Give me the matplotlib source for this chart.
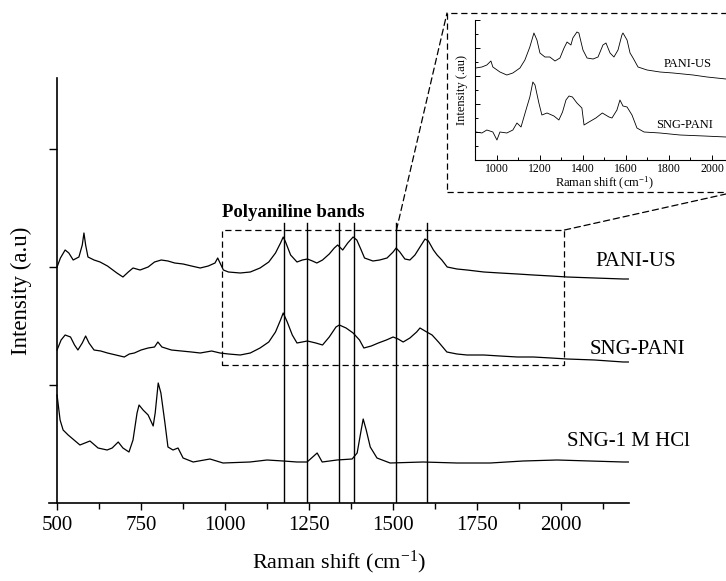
import numpy as np
import matplotlib
matplotlib.use("Agg")
import matplotlib.pyplot as plt
from matplotlib.patches import Rectangle, ConnectionPatch
from matplotlib.ticker import MultipleLocator

plt.rcParams['font.family'] = ['Liberation Serif', 'DejaVu Serif']
plt.rcParams['mathtext.fontset'] = 'custom'
plt.rcParams['mathtext.rm'] = 'Liberation Serif'

# Raman spectra (offset stacked), intensity in a.u.
pani_us_x = [500, 510, 524, 535, 548, 565, 575, 580, 585, 592, 610, 628, 650, 678, 696, 712, 726,
             747, 771, 790, 810, 830, 850, 875, 900, 926, 950, 970, 978, 985, 995, 1010, 1045,
             1075, 1104, 1130, 1150, 1165, 1173, 1180, 1195, 1214, 1230, 1245, 1260, 1273, 1290,
             1310, 1325, 1335, 1350, 1365, 1381, 1392, 1405, 1415, 1440, 1460, 1482, 1500, 1509,
             1520, 1535, 1550, 1565, 1580, 1595, 1605, 1620, 1631, 1645, 1661, 1690, 1720, 1770,
             1818, 1870, 1917, 1970, 2018, 2100, 2185, 2200]
pani_us_y = [236, 245, 253, 250, 243, 246, 258, 270, 258, 246, 243, 241, 237, 230, 226, 231, 235,
             233, 236, 241, 243, 242, 240, 239, 237, 235, 237, 240, 245, 240, 233, 231, 230,
             231, 235, 241, 250, 260, 266, 261, 248, 241, 243, 244, 242, 240, 243,
             249, 255, 258, 253, 260, 266, 263, 253, 245, 242, 243, 245, 251, 255,
             251, 244, 243, 248, 256, 264, 262, 253, 248, 243, 236, 234, 233, 231,
             230, 229, 228, 227, 226, 225, 224, 224]

sng_pani_x = [500, 512, 524, 540, 552, 562, 575, 585, 595, 610, 630, 650, 675, 700, 715, 730, 750,
              771, 790, 800, 812, 840, 870, 900, 926, 960, 985, 1010, 1045, 1075, 1104, 1130,
              1150, 1165, 1173, 1185, 1200, 1214, 1245, 1270, 1290, 1310, 1330, 1340, 1360, 1381,
              1400, 1413, 1435, 1456, 1480, 1500, 1515, 1530, 1550, 1570, 1580, 1595, 1616, 1635,
              1660, 1690, 1720, 1770, 1818, 1870, 1917, 1970, 2018, 2100, 2185, 2200]
sng_pani_y = [153, 163, 168, 166, 158, 153, 160, 167, 160, 153, 152, 150, 148, 146, 149, 150, 153,
              155, 156, 161, 156, 153, 152, 151, 150, 152, 150, 149, 148, 150, 155, 161,
              171, 183, 190, 181, 168, 160, 162, 160, 158, 166, 176, 178, 175, 170,
              163, 155, 157, 160, 163, 166, 164, 161, 165, 171, 175, 172, 168, 161,
              151, 149, 148, 148, 147, 146, 146, 145, 144, 143, 141, 141]

sng_hcl_x = [500, 509, 518, 533, 554, 568, 598, 622, 649, 664, 682, 696, 714, 726, 738, 744, 756,
             771, 786, 792, 801, 809, 821, 830, 845, 860, 875, 905, 955, 994, 1074, 1125, 1173,
             1214, 1244, 1274, 1289, 1333, 1378, 1393, 1405, 1411, 1420, 1432, 1452, 1491, 1589,
             1690, 1789, 1887, 1988, 2086, 2185, 2200]
sng_hcl_y = [108, 83, 73, 68, 62, 58, 62, 55, 53, 55, 61, 55, 51, 63, 90, 98, 93,
             88, 77, 90, 120, 110, 80, 56, 53, 55, 45, 41, 44, 40, 41, 43, 42,
             41, 41, 50, 41, 43, 44, 50, 73, 84, 73, 56, 45, 40, 41,
             40, 40, 42, 43, 42, 41, 41]

band_positions = [1175, 1245, 1340, 1385, 1510, 1600]
series_labels = ['PANI-US', 'SNG-PANI', 'SNG-1 M HCl']

# zoomed spectra for the inset (900-2100 cm-1)
inset_pani_x = [902, 930, 953, 972, 981, 1014, 1046, 1074, 1107, 1130, 1153, 1172, 1186, 1200,
                1223, 1246, 1270, 1293, 1312, 1326, 1344, 1353, 1372, 1381, 1400, 1419, 1447,
                1470, 1493, 1507, 1526, 1544, 1563, 1581, 1586, 1605, 1619, 1633, 1656, 1698,
                1758, 1819, 1912, 1977, 2065, 2100]
inset_pani_y = [92, 93, 95, 99, 93, 88, 85, 87, 92, 100, 113, 127, 120, 107,
                103, 103, 99, 102, 112, 118, 115, 122, 128, 127, 110, 102, 101,
                103, 115, 117, 107, 103, 110, 125, 127, 120, 107, 102, 93, 90,
                88, 87, 85, 83, 81, 80]
inset_sng_x = [902, 930, 953, 981, 1000, 1014, 1046, 1074, 1093, 1112, 1135, 1153, 1167, 1177,
               1195, 1209, 1233, 1265, 1288, 1305, 1321, 1335, 1351, 1372, 1395, 1405, 1428,
               1460, 1490, 1521, 1535, 1558, 1572, 1586, 1605, 1628, 1651, 1684, 1758, 1851,
               1963, 2065, 2100]
inset_sng_y = [28, 27, 30, 28, 20, 28, 27, 30, 37, 33, 50, 63, 78, 75,
               57, 45, 47, 44, 40, 48, 60, 64, 63, 57, 52, 35, 38,
               42, 47, 43, 42, 50, 60, 54, 53, 45, 32, 28, 27, 25,
               24, 23, 23]

fig = plt.figure(figsize=(7.26, 5.81), dpi=100)
ax = fig.add_axes([49 / 726, 78 / 581, 580 / 726, 425 / 581])

for xs, ys in [(pani_us_x, pani_us_y), (sng_pani_x, sng_pani_y), (sng_hcl_x, sng_hcl_y)]:
    ax.plot(xs, ys, color='black', lw=0.9)

for b in band_positions:
    ax.plot([b, b], [0, 280], color='black', lw=1.0)

# dashed frame around the polyaniline region
ax.add_patch(Rectangle((990, 138), 1020, 135, fill=False, ls=(0, (5, 3)), lw=0.9,
                       color='black', clip_on=False))
ax.text(990, 291, 'Polyaniline bands', fontsize=13.5, fontweight='bold', ha='left', va='center')

ax.text(2101, 242, series_labels[0], fontsize=15, ha='left', va='center', clip_on=False)
ax.text(2086, 153, series_labels[1], fontsize=15, ha='left', va='center', clip_on=False)
ax.text(2018, 61, series_labels[2], fontsize=15, ha='left', va='center', clip_on=False)

ax.set_xlim(476, 2202)
ax.set_ylim(0, 425)
ax.spines['left'].set_position(('data', 500))
ax.spines['top'].set_visible(False)
ax.spines['right'].set_visible(False)
ax.spines['left'].set_linewidth(1.2)
ax.spines['bottom'].set_linewidth(1.2)
ax.set_xticks([500, 750, 1000, 1250, 1500, 1750, 2000])
ax.xaxis.set_minor_locator(MultipleLocator(125))
ax.set_yticks([118, 236, 354])
ax.set_yticklabels([])
ax.tick_params(axis='x', which='major', direction='out', length=5, width=1.0, labelsize=15, pad=4)
ax.tick_params(axis='x', which='minor', direction='out', length=4, width=1.0)
ax.tick_params(axis='y', direction='out', length=6, width=1.0)
ax.set_xlabel(r'Raman shift (cm$\mathregular{^{-1}}$)', fontsize=16, labelpad=10)
ax.set_ylabel('Intensity (a.u)', fontsize=16.5)
ax.yaxis.set_label_coords(-0.03, 0.5)

# inset with the polyaniline bands
axi = fig.add_axes([475 / 726, 421 / 581, 258.5 / 726, 140 / 581])
axi.plot(inset_pani_x, inset_pani_y, color='black', lw=0.6)
axi.plot(inset_sng_x, inset_sng_y, color='black', lw=0.6)
axi.set_xlim(898, 2100)
axi.set_ylim(0, 140)
axi.spines['top'].set_visible(False)
axi.spines['right'].set_visible(False)
axi.set_xticks([1000, 1200, 1400, 1600, 1800, 2000])
axi.xaxis.set_minor_locator(MultipleLocator(100))
axi.yaxis.set_major_locator(MultipleLocator(28))
axi.yaxis.set_minor_locator(MultipleLocator(14))
axi.set_yticklabels([])
axi.tick_params(which='major', direction='in', length=3.5, width=0.7, labelsize=8.5, pad=2)
axi.tick_params(which='minor', direction='in', length=2, width=0.7)
axi.set_xlabel(r'Raman shift (cm$\mathregular{^{-1}}$)', fontsize=9, labelpad=0)
axi.set_ylabel('Intensity (.au)', fontsize=9, labelpad=2)
axi.text(1775, 96, 'PANI-US', fontsize=9, ha='left', va='center')
axi.text(1740, 35, 'SNG-PANI', fontsize=9, ha='left', va='center')

fig.add_artist(Rectangle((447 / 726, 389 / 581), 0.4, 179 / 581, transform=fig.transFigure,
                         fill=False, ls=(0, (5, 3)), lw=0.9, color='black'))
for xa, xb in [((1510, 273), (447 / 726, 568 / 581)), ((2010, 273), (1.0, 387 / 581))]:
    fig.add_artist(ConnectionPatch(xyA=xa, coordsA=ax.transData, xyB=xb,
                                   coordsB=fig.transFigure, ls=(0, (5, 3)), lw=0.9, color='black'))

fig.savefig('out.png', dpi=100)
